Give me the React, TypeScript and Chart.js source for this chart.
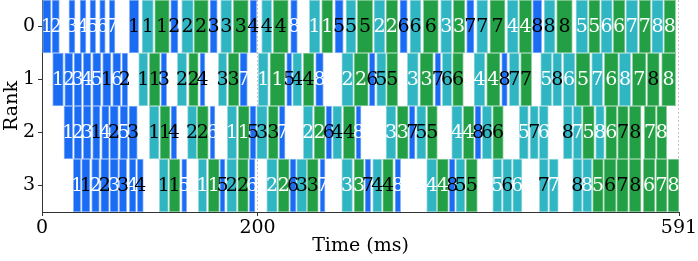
import React, { useEffect, useRef } from 'react';
import { Chart, registerables } from 'chart.js';

Chart.register(...registerables);

// ---------- data ----------
const RANK_LABELS = ['0', '1', '2', '3'];
const X_TICKS = [0, 200, 591];
const X_MAX = 591;
const MARKER_TIMES = [200, 591];
const KINDS = ['F', 'B', 'W'];

// op code: kind + microbatch + chunk (a = chunk 0, b = chunk 1)
const rank0Ops = 'F1a F2a F3a F4a F5a F6a F7a F1b B1b W1b F2b B2b W2b F3b B3b W3b F4b B4b W4b F8a B1a W1a F5b B5b W5b B2a W2a F6b B6b W6b B3a W3a F7b B7b W7b B4a W4a F8b B8b W8b B5a W5a B6a W6a B7a W7a B8a W8a'.split(' ');
const rank0Start = [0.6, 9.3, 25.0, 35.3, 44.5, 53.5, 62.4, 81.0, 92.8, 104.6, 119.4, 129.6, 141.0, 155.9, 165.8, 177.5, 193.0, 203.8, 214.6, 230.7, 248.0, 259.5, 271.8, 282.0, 292.5, 308.0, 319.2, 332.1, 341.4, 353.8, 369.9, 381.6, 394.0, 403.3, 415.6, 431.7, 442.8, 455.3, 465.8, 477.5, 495.4, 507.2, 518.6, 530.0, 541.8, 554.0, 565.7, 577.1];
const rank0End = [8.3, 16.1, 30.6, 40.8, 49.8, 58.7, 67.7, 89.7, 103.3, 118.1, 126.2, 140.4, 154.3, 162.6, 176.0, 191.4, 199.2, 213.1, 228.5, 236.9, 257.9, 269.7, 279.5, 291.3, 306.8, 318.2, 330.0, 338.9, 351.6, 367.7, 380.1, 392.4, 400.8, 413.5, 429.6, 441.9, 454.3, 463.6, 476.0, 492.0, 506.3, 517.7, 529.1, 540.9, 552.7, 564.7, 576.4, 587.9];

const rank1Ops = 'F1a F2a F3a F4a F5a F1b F6a F2b B1b W1b F3b B2b W2b F4b B3b W3b F7a B1a W1a F5b B4b W4b F8a B2a W2a F6b B5b W5b B3a W3a F7b B6b W6b B4a W4a F8b B7b W7b B5a B8b B6a W5a B7a W6a B8a W7a W8b W8a'.split(' ');
const rank1Start = [9.9, 21.1, 29.7, 38.3, 47.0, 56.3, 65.6, 74.2, 89.7, 99.6, 110.4, 125.5, 136.1, 146.6, 163.6, 172.8, 183.7, 200.7, 211.5, 227.0, 232.6, 242.4, 253.9, 278.1, 289.5, 303.7, 310.5, 319.8, 338.9, 350.7, 364.6, 371.4, 381.0, 400.8, 412.6, 426.5, 433.6, 444.1, 462.7, 473.8, 483.7, 495.4, 510.0, 521.7, 535.6, 547.7, 561.6, 574.9];
const rank1End = [19.8, 28.5, 36.8, 45.5, 54.7, 64.0, 73.0, 79.5, 98.1, 109.5, 115.7, 134.2, 145.0, 151.2, 171.4, 182.8, 190.5, 209.9, 225.5, 231.7, 240.9, 252.4, 261.0, 288.8, 302.7, 309.0, 319.2, 330.0, 349.1, 363.0, 369.9, 380.1, 390.9, 411.0, 424.9, 431.7, 442.8, 454.3, 472.9, 482.2, 494.5, 508.4, 520.2, 534.7, 546.2, 560.4, 572.7, 587.9];

const rank2Ops = 'F1a F2a F3a F1b F4a F2b F5a F3b B1b W1b F4b B2b W2b F6a B1a W1a F5b B3b W3b F7a B2a W2a F6b B4b W4b F8a B3a W3a F7b B5b W5b B4a W4a F8b B6b W6b B5a B7b B6a B8b B7a W5a B8a W6a W7b W8b W7a W8a'.split(' ');
const rank2Start = [20.4, 29.7, 38.3, 47.0, 55.4, 63.1, 72.4, 80.7, 99.6, 109.5, 119.7, 135.0, 144.1, 155.9, 171.9, 182.1, 193.0, 199.2, 210.0, 220.2, 242.4, 252.4, 263.5, 269.7, 279.5, 291.3, 319.2, 329.6, 340.8, 347.6, 357.5, 380.1, 390.9, 401.7, 408.5, 418.2, 442.8, 452.8, 461.4, 483.7, 492.9, 501.6, 513.7, 523.0, 534.1, 544.9, 558.8, 570.3];
const rank2End = [28.5, 36.8, 45.5, 53.8, 62.2, 70.8, 79.5, 88.4, 108.6, 118.8, 125.0, 143.5, 154.3, 160.5, 180.6, 192.3, 198.5, 209.0, 219.2, 225.5, 251.2, 262.6, 268.8, 278.1, 290.4, 296.0, 328.4, 339.8, 346.1, 356.3, 366.8, 389.9, 400.8, 407.3, 417.2, 428.0, 451.2, 460.5, 469.7, 492.0, 500.7, 512.4, 521.7, 533.2, 543.9, 555.8, 569.4, 579.6];

const rank3Ops = 'F1a F1b F2a F2b F3a F3b F4a F4b B1b W1b F5a B1a W1a F5b B2b W2b F6a B2a W2a F6b B3b W3b F7a B3a W3a F7b B4b W4b F8a B4a W4a F8b B5b W5b B5a B6b B6a B7b B7a B8b B8a W5a W6b W7b W8b W6a W7a W8a'.split(' ');
const rank3Start = [29.0, 36.8, 46.1, 54.5, 63.1, 71.7, 81.0, 88.4, 108.8, 118.1, 129.6, 145.0, 154.3, 165.1, 171.4, 181.6, 192.3, 208.5, 219.2, 230.1, 236.3, 246.1, 257.9, 278.1, 289.5, 299.7, 306.8, 316.1, 327.5, 356.9, 366.8, 377.9, 384.1, 393.4, 418.2, 427.4, 436.7, 461.4, 470.7, 492.4, 501.6, 510.9, 521.4, 533.2, 544.9, 557.9, 569.7, 580.8];
const rank3End = [35.9, 44.5, 53.2, 62.2, 70.8, 78.6, 87.2, 94.0, 117.2, 128.0, 134.3, 152.8, 164.5, 169.8, 180.6, 191.4, 197.6, 218.3, 229.4, 235.7, 245.6, 256.3, 262.6, 288.1, 298.7, 305.0, 315.2, 325.9, 332.8, 366.2, 377.0, 383.2, 392.4, 403.9, 426.5, 435.8, 445.3, 469.7, 479.0, 501.0, 510.0, 520.8, 532.6, 543.9, 555.8, 568.7, 579.9, 591.0];

// ---------- styles ----------
const FILL: Record<string, string> = { F: '#1b6cf4', B: '#30b6c3', W: '#23a045' };
const EDGE: Record<string, string> = { F: '#8fb6f9', B: '#9edbe1', W: '#93d0a3' };
const FONT_FAMILY = '"DejaVu Serif", serif';
const FONT_SIZE = 19;
const AXIS_COLOR = '#333333';

const RANK_OPS = [rank0Ops, rank1Ops, rank2Ops, rank3Ops];
const RANK_START = [rank0Start, rank1Start, rank2Start, rank3Start];
const RANK_END = [rank0End, rank1End, rank2End, rank3End];

function buildData(kind: string) {
  const out: any[] = [];
  RANK_OPS.forEach((ops, r) => {
    ops.forEach((op, i) => {
      if (op[0] !== kind) return;
      out.push({
        x: [RANK_START[r][i], RANK_END[r][i]],
        y: RANK_LABELS[r],
        mb: op.slice(1, -1),
        chunk: op.slice(-1),
      });
    });
  });
  return out;
}

const markerPlugin = {
  id: 'markers',
  beforeDatasetsDraw(chart: any) {
    const { ctx, chartArea, scales } = chart;
    ctx.save();
    ctx.strokeStyle = '#c4c4c4';
    ctx.lineWidth = 1;
    ctx.setLineDash([2, 2]);
    MARKER_TIMES.forEach((t) => {
      const x = Math.round(scales.x.getPixelForValue(t)) - 0.5;
      ctx.beginPath();
      ctx.moveTo(x, chartArea.top);
      ctx.lineTo(x, chartArea.bottom);
      ctx.stroke();
    });
    ctx.restore();
  },
};

const labelPlugin = {
  id: 'opLabels',
  afterDatasetsDraw(chart: any) {
    const { ctx } = chart;
    ctx.save();
    ctx.font = `${FONT_SIZE}px ${FONT_FAMILY}`;
    ctx.textAlign = 'center';
    ctx.textBaseline = 'middle';
    chart.data.datasets.forEach((ds: any, di: number) => {
      const meta = chart.getDatasetMeta(di);
      meta.data.forEach((el: any, j: number) => {
        const p = el.getProps(['x', 'y', 'base'], true);
        const item = ds.data[j];
        ctx.fillStyle = item.chunk === 'a' ? '#ffffff' : '#000000';
        ctx.fillText(item.mb, (p.x + p.base) / 2, p.y + 1);
      });
    });
    ctx.restore();
  },
};

export default function App() {
  const canvasRef = useRef<HTMLCanvasElement | null>(null);

  useEffect(() => {
    if (!canvasRef.current) return;
    Chart.defaults.font.family = FONT_FAMILY;
    Chart.defaults.font.size = FONT_SIZE;
    Chart.defaults.color = '#000';

    const chart = new Chart(canvasRef.current, {
      type: 'bar',
      data: {
        labels: RANK_LABELS,
        datasets: KINDS.map((k) => ({
          label: k,
          data: buildData(k),
          backgroundColor: FILL[k],
          borderColor: EDGE[k],
          borderWidth: 1,
          borderSkipped: false,
          grouped: false,
          barPercentage: 1,
          categoryPercentage: 1,
        })) as any,
      },
      options: {
        indexAxis: 'y',
        animation: false,
        responsive: false,
        devicePixelRatio: 1,
        layout: { padding: { top: 0, right: 19, bottom: 0, left: 0 } },
        plugins: { legend: { display: false }, tooltip: { enabled: false } },
        scales: {
          x: {
            type: 'linear',
            min: 0,
            max: X_MAX,
            afterBuildTicks: (s: any) => {
              s.ticks = X_TICKS.map((v) => ({ value: v }));
            },
            afterFit: (s: any) => {
              s.height = 49;
              s.paddingLeft = 0;
              s.paddingRight = 0;
            },
            grid: { drawOnChartArea: false, drawTicks: true, tickLength: 4, color: AXIS_COLOR },
            border: { display: true, color: AXIS_COLOR, width: 1 },
            ticks: { color: '#000', padding: 1, maxRotation: 0, autoSkip: false, font: { size: FONT_SIZE } },
            title: { display: true, text: 'Time (ms)', color: '#000', font: { size: FONT_SIZE }, padding: { top: 0, bottom: 4 } },
          },
          y: {
            type: 'category',
            offset: true,
            afterFit: (s: any) => {
              s.width = 42;
              s.paddingTop = 0;
              s.paddingBottom = 0;
            },
            grid: { offset: false, drawOnChartArea: false, drawTicks: true, tickLength: 4, color: AXIS_COLOR },
            border: { display: true, color: AXIS_COLOR, width: 1 },
            ticks: { color: '#000', padding: 3, font: { size: FONT_SIZE } },
            title: { display: true, text: 'Rank', color: '#000', font: { size: FONT_SIZE }, padding: { top: 1, bottom: 0 } },
          },
        },
      } as any,
      plugins: [markerPlugin, labelPlugin],
    });
    return () => chart.destroy();
  }, []);

  return (
    <div style={{ position: 'fixed', left: 0, top: 0, width: 698, height: 261, background: '#fff' }}>
      <canvas ref={canvasRef} width={698} height={261} />
    </div>
  );
}
